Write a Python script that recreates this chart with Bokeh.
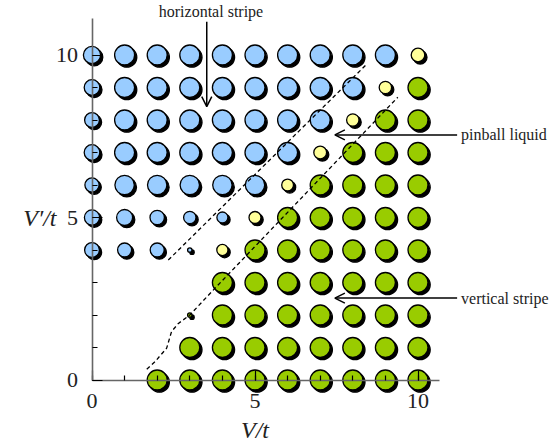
import numpy as np
from bokeh.plotting import figure
from bokeh.models import Range1d, FixedTicker, Label, Arrow, OpenHead, ColumnDataSource
from bokeh.embed import file_html
from bokeh.resources import INLINE

# ---------------- data ----------------
v_values = list(range(11))                      # V/t
vp_rows = [10, 9, 8, 7, 6, 5, 4, 3, 2, 1, 0]    # V'/t (top row first)

# H = horizontal stripe, P = pinball liquid, V = vertical stripe, . = none
phase_rows = [
    "HHHHHHHHHHP",
    "HHHHHHHHHPV",
    "HHHHHHHHPVV",
    "HHHHHHHPVVV",
    "HHHHHHPVVVV",
    "HHHHHPVVVVV",
    "HHHHPVVVVVV",
    "....VVVVVVV",
    "...VVVVVVVV",
    "...VVVVVVVV",
    "..VVVVVVVVV",
]

# relative order-parameter amplitude (marker size)
amp_rows = [
    [0.86, 1, 1, 1, 1, 1, 1, 1, 1, 1, 0.68],
    [0.78, 1, 1, 1, 1, 1, 1, 1, 1, 0.62, 1],
    [0.74, 1, 1, 1, 1, 1, 1, 1, 0.62, 1, 1],
    [0.78, 1, 1, 1, 1, 1, 1, 0.64, 1, 1, 1],
    [0.71, 0.97, 0.97, 0.97, 0.97, 0.97, 0.59, 1, 1, 1, 1],
    [0.76, 0.80, 0.72, 0.62, 0.55, 0.60, 1, 1, 1, 1, 1],
    [0.74, 0.70, 0.70, 0.22, 0.56, 1, 1, 1, 1, 1, 1],
    [0, 0, 0, 0, 1, 1, 1, 1, 1, 1, 1],
    [0, 0, 0, 0.22, 1, 1, 1, 1, 1, 1, 1],
    [0, 0, 0, 1, 1, 1, 1, 1, 1, 1, 1],
    [0, 0, 1, 1, 1, 1, 1, 1, 1, 1, 1],
]

phase_colors = {"H": "#99CCFF", "P": "#FFFF99", "V": "#99CC00"}

# phase boundaries (dashed lines)
upper_boundary_v = [2.34, 8.40]
upper_boundary_vp = [3.69, 9.69]
lower_boundary_v = [1.68, 1.93, 2.29, 2.44, 2.65, 3.00, 3.77, 9.38]
lower_boundary_vp = [0.33, 0.56, 0.98, 1.49, 1.74, 2.00, 2.82, 8.70]

x_ticks = [0, 5, 10]
y_ticks = [0, 5, 10]
minor = list(range(0, 11))

# ---------------- build ----------------
xs, ys, cols, amps = [], [], [], []
for vp, prow, arow in zip(vp_rows, phase_rows, amp_rows):
    for v, ph, a in zip(v_values, prow, arow):
        if ph == ".":
            continue
        xs.append(v)
        ys.append(vp)
        cols.append(phase_colors[ph])
        amps.append(a)

FULL = 20.0
sizes = [a * FULL for a in amps]

W, H = 552, 446
px_x = 32.6
px_y = 32.5
x0_px = 91.5
y0_px = 379.5
x_start = -x0_px / px_x
x_end = (W - x0_px) / px_x
y_end = y0_px / px_y
y_start = -(H - y0_px) / px_y

p = figure(width=W, height=H, output_backend="svg", toolbar_location=None,
           x_range=Range1d(x_start, x_end), y_range=Range1d(y_start, y_end),
           min_border_left=0, min_border_right=0, min_border_top=0,
           min_border_bottom=0)
p.outline_line_color = None
p.grid.visible = False
p.background_fill_color = "white"
p.border_fill_color = "white"

shadow_dx = 2.2 / px_x
shadow_dy = 2.2 / px_y
shadow = ColumnDataSource(dict(x=[x + shadow_dx for x in xs],
                               y=[y - shadow_dy for y in ys], size=sizes))
src = ColumnDataSource(dict(x=xs, y=ys, size=sizes, color=cols))
p.scatter("x", "y", size="size", source=shadow, fill_color="black",
          line_color="black", line_width=1.3)
p.scatter("x", "y", size="size", source=src, fill_color="color",
          line_color="black", line_width=1.3)

p.line(upper_boundary_v, upper_boundary_vp, line_color="black",
       line_width=1.3, line_dash="4 3")
p.line(lower_boundary_v, lower_boundary_vp, line_color="black",
       line_width=1.3, line_dash="4 3")

serif = "Liberation Serif"
for ax, ticks, bounds, standoff in ((p.xaxis, x_ticks, (0, 10.67), 14),
                                    (p.yaxis, y_ticks, (0, 11.12), 14)):
    ax.ticker = FixedTicker(ticks=ticks, minor_ticks=minor)
    ax.fixed_location = 0
    ax.bounds = bounds
    ax.axis_line_color = "#666666"
    ax.axis_line_width = 1.6
    ax.major_tick_in = 10
    ax.major_tick_out = 0
    ax.minor_tick_in = 5
    ax.minor_tick_out = 0
    ax.major_tick_line_color = "black"
    ax.minor_tick_line_color = "black"
    ax.major_tick_line_width = 1.2
    ax.minor_tick_line_width = 1.2
    ax.major_label_text_font = serif
    ax.major_label_text_font_size = "22px"
    ax.major_label_text_color = "#222222"
    ax.major_label_standoff = standoff

# axis labels
p.add_layout(Label(x=5, y=-1.55, text="V/t", text_font=serif, text_font_style="italic",
                   text_font_size="24px", text_align="center", text_baseline="middle",
                   text_color="#222222"))
p.add_layout(Label(x=-1.09, y=5, text="V′/t", text_font=serif, text_font_style="italic",
                   text_font_size="24px", text_align="right", text_baseline="middle",
                   text_color="#222222"))

# annotations
ann_font = "16px"
p.add_layout(Label(x=3.65, y=11.35, text="horizontal stripe", text_font=serif,
                   text_font_size=ann_font, text_align="center", text_baseline="middle",
                   text_color="#222222"))
p.add_layout(Arrow(end=OpenHead(size=10, line_width=1.5, line_color="black"),
                   x_start=3.52, y_start=11.02, x_end=3.52, y_end=8.41,
                   line_width=1.5, line_color="black"))

p.add_layout(Label(x=11.32, y=7.54, text="pinball liquid", text_font=serif,
                   text_font_size=ann_font, text_align="left", text_baseline="middle",
                   text_color="#222222"))
p.add_layout(Arrow(end=OpenHead(size=10, line_width=1.5, line_color="black"),
                   x_start=11.2, y_start=7.54, x_end=7.45, y_end=7.54,
                   line_width=1.5, line_color="black"))

p.add_layout(Label(x=11.32, y=2.52, text="vertical stripe", text_font=serif,
                   text_font_size=ann_font, text_align="left", text_baseline="middle",
                   text_color="#222222"))
p.add_layout(Arrow(end=OpenHead(size=10, line_width=1.5, line_color="black"),
                   x_start=11.2, y_start=2.52, x_end=7.45, y_end=2.52,
                   line_width=1.5, line_color="black"))

open("out.html", "w").write(file_html(p, INLINE))
